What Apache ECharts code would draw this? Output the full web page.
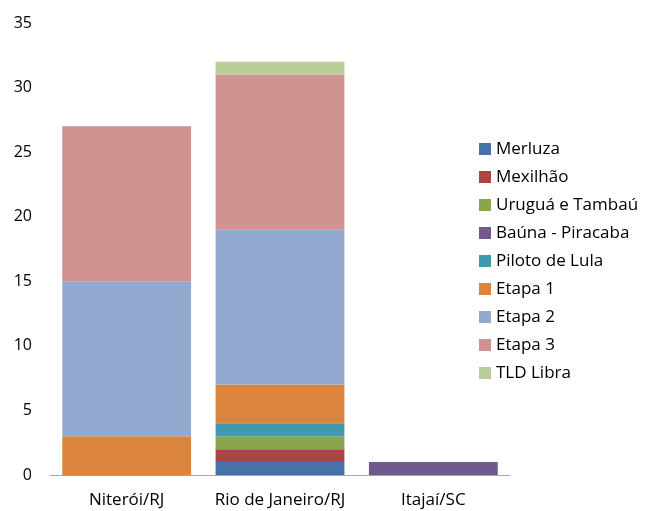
<!DOCTYPE html>
<html>
<head>
<meta charset="utf-8">
<script src="https://cdn.jsdelivr.net/npm/echarts@6/dist/echarts.min.js"></script>
<style>
  html, body { margin: 0; padding: 0; background: #fff; }
  #main { width: 654px; height: 511px; }
</style>
</head>
<body>
<div id="main"></div>
<script>
// categorias
var cidades = ['Niterói/RJ', 'Rio de Janeiro/RJ', 'Itajaí/SC'];

// valores por campo / etapa
var merluza = [0, 1, 0];
var mexilhao = [0, 1, 0];
var uruguaTambau = [0, 1, 0];
var baunaPiracaba = [0, 0, 1];
var pilotoLula = [0, 1, 0];
var etapa1 = [3, 3, 0];
var etapa2 = [12, 12, 0];
var etapa3 = [12, 12, 0];
var tldLibra = [0, 1, 0];

var nomes = ['Merluza', 'Mexilhão', 'Uruguá e Tambaú', 'Baúna - Piracaba', 'Piloto de Lula', 'Etapa 1', 'Etapa 2', 'Etapa 3', 'TLD Libra'];
var cores = ['#4572A7', '#AA4643', '#89A54E', '#71588F', '#4198AF', '#DB843D', '#93A9CF', '#D19392', '#B9CD96'];
var valores = [merluza, mexilhao, uruguaTambau, baunaPiracaba, pilotoLula, etapa1, etapa2, etapa3, tldLibra];

var fonte = 'Open Sans, Liberation Sans, sans-serif';

var myChart = echarts.init(document.getElementById('main'));

var series = [];
for (var i = 0; i < nomes.length; i++) {
    series.push({
        name: nomes[i],
        type: 'bar',
        stack: 'total',
        barCategoryGap: '16%',
        itemStyle: {color: cores[i]},
        data: valores[i]
    });
}

var option = {
    animation: false,
    color: cores,
    grid: {
        left: 50,
        right: 144,
        top: 23,
        bottom: 36
    },
    legend: {
        orient: 'vertical',
        left: 474,
        top: 135,
        itemWidth: 12,
        itemHeight: 12,
        itemGap: 10,
        icon: 'rect',
        textStyle: {fontSize: 17, lineHeight: 18, color: '#000', fontFamily: fonte}
    },
    xAxis: {
        type: 'category',
        data: cidades,
        axisLine: {lineStyle: {color: '#A6A6A6'}},
        axisTick: {show: false},
        axisLabel: {interval: 0, fontSize: 17, lineHeight: 17, color: '#000', margin: 17, fontFamily: fonte}
    },
    yAxis: {
        type: 'value',
        min: 0,
        max: 35,
        interval: 5,
        axisLine: {show: false},
        axisTick: {show: false},
        splitLine: {show: false},
        axisLabel: {fontSize: 16, color: '#000', margin: 18, fontFamily: fonte}
    },
    series: series
};

myChart.setOption(option);
</script>
</body>
</html>
